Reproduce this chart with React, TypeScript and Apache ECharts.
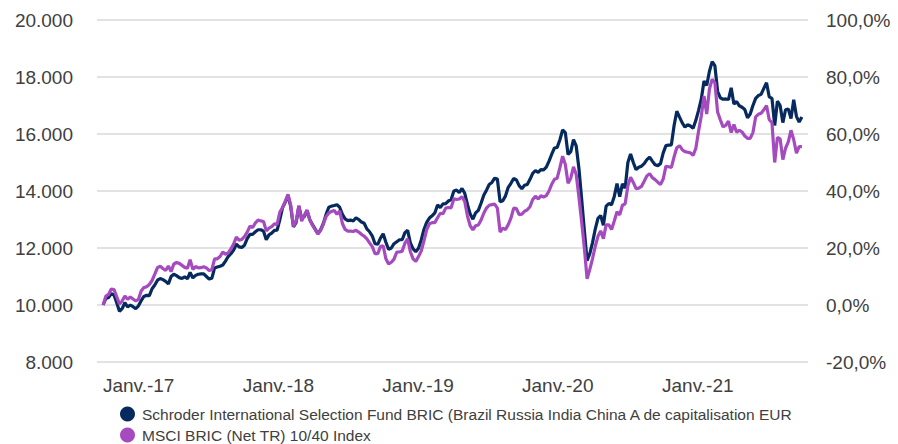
import React, { useEffect, useRef } from "react";
import * as echarts from "echarts";

// Observation window: 30/09/2016 -> 30/09/2021, evenly spaced (about weekly) observations
const START_DATE = "2016-09-30";
const END_DATE = "2021-09-30";

// Tick labels of the time axis (1st of January of each year)
const X_TICK_YEARS = [2017, 2018, 2019, 2020, 2021];

const SERIES_NAMES = [
  "Schroder International Selection Fund BRIC (Brazil Russia India China A de capitalisation EUR",
  "MSCI BRIC (Net TR) 10/40 Index",
];

// Fund, rebased to 10.000
const FUND = [
  10000, 10230, 10260, 10400, 10350, 10080, 9780, 9870, 10080, 9930,
  10000, 9940, 9870, 9970, 10150, 10300, 10340, 10330, 10570, 10700,
  10870, 10930, 10890, 10830, 10740, 11000, 11080, 11030, 10960, 10930,
  10990, 10920, 11140, 10950, 11040, 11080, 11090, 11090, 11000, 10910,
  10940, 11300, 11330, 11360, 11400, 11540, 11700, 11800, 11930, 12140,
  12040, 12020, 12100, 12330, 12480, 12480, 12570, 12640, 12640, 12590,
  12290, 12460, 12520, 12620, 12630, 13000, 13420, 13610, 13850, 13450,
  12740, 12900, 13460, 13050, 13100, 13320, 12990, 12820, 12660, 12500,
  12640, 12860, 13180, 13430, 13470, 13490, 13520, 13430, 13180, 13020,
  12960, 12980, 12950, 13060, 13000, 12910, 12870, 12670, 12570, 12420,
  12150, 12130, 12350, 12500, 12200, 11950, 12000, 12150, 12220, 12290,
  12290, 12540, 12620, 12180, 11970, 11870, 11990, 12280, 12650, 12900,
  13050, 13130, 13230, 13510, 13420, 13550, 13560, 13650, 13700, 14000,
  14030, 13940, 14090, 13920, 13530, 13190, 13010, 13230, 13320, 13570,
  13850, 14030, 14230, 14300, 14450, 14420, 13620, 13660, 13830, 14130,
  14270, 14440, 14390, 14190, 14080, 14200, 14230, 14410, 14620, 14720,
  14650, 14750, 14740, 14840, 15050, 15290, 15510, 15530, 15800, 16140,
  16050, 15280, 15380, 15800, 15580, 14790, 13720, 12610, 11560, 11800,
  12190, 12660, 13040, 13140, 12800, 13470, 13560, 13520, 13810, 14260,
  13800, 14250, 14100, 15000, 15300, 15000, 14750, 14830, 14870, 14960,
  15100, 15190, 15050, 14920, 14890, 14960, 15340, 15590, 15610, 15620,
  16300, 16800, 16590, 16390, 16240, 16330, 16280, 16200, 16480, 16830,
  17220, 17860, 17700, 18200, 18540, 18400, 17500, 17270, 17220, 17230,
  17210, 17620, 17050, 17140, 16990, 16940, 16860, 16570, 16700, 17000,
  17250, 17350, 17390, 17600, 17800, 17300, 17250, 16300, 17150, 17000,
  16400, 16850, 16880, 16540, 17200, 16620, 16420, 16600,
];

// Benchmark, rebased to 10.000
const INDEX = [
  10000, 10310, 10370, 10560, 10540, 10290, 10040, 10140, 10320, 10200,
  10280, 10210, 10140, 10200, 10490, 10610, 10640, 10720, 10860, 11080,
  11310, 11360, 11280, 11210, 11370, 11170, 11440, 11490, 11460, 11390,
  11320, 11290, 11590, 11250, 11350, 11300, 11310, 11340, 11300, 11210,
  11240, 11620, 11620, 11700, 11860, 11780, 11830, 11970, 12140, 12380,
  12270, 12300, 12400, 12560, 12770, 12720, 12880, 12980, 12950, 12930,
  12600, 12700, 12750, 12850, 12830, 13260, 13420, 13640, 13880, 13500,
  12760, 12950, 13490, 12940, 13150, 13330, 12990, 12800, 12640, 12500,
  12620, 12840, 13100, 13230, 13280, 13320, 13180, 13300, 12860, 12650,
  12590, 12590, 12580, 12620, 12560, 12480, 12420, 12320, 12180, 12050,
  11800, 11800, 12050, 12080, 11620, 11440, 11500, 11610, 11860, 11860,
  11890, 12170, 12320, 11870, 11620, 11530, 11700, 11890, 12250, 12640,
  12850, 12890, 12890, 13060, 13220, 13200, 13400, 13420, 13410, 13730,
  13700, 13720, 13800, 13630, 13120, 12780, 12640, 12780, 12810, 12980,
  13220, 13400, 13500, 13520, 13540, 13400, 12560, 12700, 12650, 12820,
  13050, 13400, 13380, 13170, 13190, 13290, 13340, 13450, 13700, 13820,
  13720, 13830, 13790, 13840, 14000, 14240, 14410, 14450, 14820, 15220,
  14930, 14270, 14450, 14850, 14580, 13790, 12920, 12000, 10920, 11250,
  11630, 12060, 12410, 12600, 12330, 12810, 12810, 12650, 12950, 13270,
  13160, 13500, 13550, 14180, 14480, 14300, 14080, 14100, 14160, 14340,
  14530, 14610, 14470, 14400, 14310, 14230, 14420, 14870, 14850, 14830,
  15200, 15520, 15590, 15450, 15380, 15360, 15340, 15250, 15500, 16100,
  16630, 17330, 16700, 17580, 17920, 17800, 16770, 16500, 16250, 16300,
  16450, 16050, 16330, 16060, 16130, 16070, 15930, 15850, 15850, 16050,
  16600, 16690, 16730, 16850, 17000, 16500, 16400, 15000, 15880, 15830,
  15100, 15500, 15720, 16130, 15800, 15330, 15560, 15560,
];

const LEFT_AXIS = { min: 8000, max: 20000, interval: 2000 };
const RIGHT_AXIS = { min: -20, max: 100, interval: 20 };

const COLORS = ["#062a5e", "#a54bbf"];
const FONT = "'Liberation Sans', Arial, Helvetica, sans-serif";
const DAY = 24 * 3600 * 1000;

function toUTC(s: string) {
  const [y, m, d] = s.split("-").map(Number);
  return Date.UTC(y, m - 1, d);
}

export default function App() {
  const ref = useRef<HTMLDivElement>(null);

  useEffect(() => {
    if (!ref.current) return;
    const chart = echarts.init(ref.current, undefined, { renderer: "svg" });
    const t0 = toUTC(START_DATE);
    const t1 = toUTC(END_DATE);
    const n = FUND.length;
    const times = FUND.map((_, i) => t0 + ((t1 - t0) * i) / (n - 1));
    const tickValues = X_TICK_YEARS.map((y) => Date.UTC(y, 0, 1));

    const fmtThousands = (v: number) => {
      const th = Math.floor(v / 1000);
      const rest = String(Math.round(v % 1000)).padStart(3, "0");
      return th + "." + rest;
    };

    chart.setOption({
      animation: false,
      backgroundColor: "#ffffff",
      grid: { left: 97, right: 90, top: 20, bottom: 82, containLabel: false },
      legend: {
        orient: "vertical",
        left: 120,
        top: 406,
        padding: 0,
        itemGap: 5,
        itemWidth: 15,
        itemHeight: 15,
        icon: "circle",
        textStyle: { fontSize: 15.5, color: "#404040", fontFamily: FONT, padding: [0, 0, 0, 2] },
        data: SERIES_NAMES,
      },
      xAxis: {
        type: "value",
        min: t0 - 16 * DAY,
        max: t1 + 16 * DAY,
        axisLine: { show: false },
        axisTick: { show: false },
        splitLine: { show: false },
        axisLabel: {
          customValues: tickValues,
          margin: 14,
          fontSize: 19,
          color: "#404040",
          fontFamily: FONT,
          showMinLabel: true,
          showMaxLabel: true,
          formatter: (v: number) => {
            const yy = String(new Date(v).getUTCFullYear()).slice(2);
            return "Janv.-" + yy;
          },
        },
      },
      yAxis: [
        {
          type: "value",
          min: LEFT_AXIS.min,
          max: LEFT_AXIS.max,
          interval: LEFT_AXIS.interval,
          axisLine: { show: false },
          axisTick: { show: false },
          splitLine: { show: true, lineStyle: { color: "#e2e2e2", width: 2 } },
          axisLabel: {
            margin: 24,
            fontSize: 19,
            color: "#404040",
            fontFamily: FONT,
            formatter: fmtThousands,
          },
        },
        {
          type: "value",
          position: "right",
          min: RIGHT_AXIS.min,
          max: RIGHT_AXIS.max,
          interval: RIGHT_AXIS.interval,
          axisLine: { show: false },
          axisTick: { show: false },
          splitLine: { show: false },
          axisLabel: {
            margin: 18,
            fontSize: 19,
            color: "#404040",
            fontFamily: FONT,
            formatter: (v: number) => v.toFixed(1).replace(".", ",") + "%",
          },
        },
      ],
      series: [
        {
          name: SERIES_NAMES[0],
          type: "line",
          yAxisIndex: 0,
          showSymbol: false,
          symbol: "none",
          color: COLORS[0],
          lineStyle: { width: 3.2, color: COLORS[0] },
          data: times.map((t, i) => [t, FUND[i]]),
        },
        {
          name: SERIES_NAMES[1],
          type: "line",
          yAxisIndex: 0,
          showSymbol: false,
          symbol: "none",
          color: COLORS[1],
          lineStyle: { width: 3.2, color: COLORS[1] },
          data: times.map((t, i) => [t, INDEX[i]]),
        },
      ],
    });

    return () => chart.dispose();
  }, []);

  return (
    <div
      ref={ref}
      style={{ position: "fixed", left: 0, top: 0, width: 898, height: 444, background: "#fff" }}
    />
  );
}
